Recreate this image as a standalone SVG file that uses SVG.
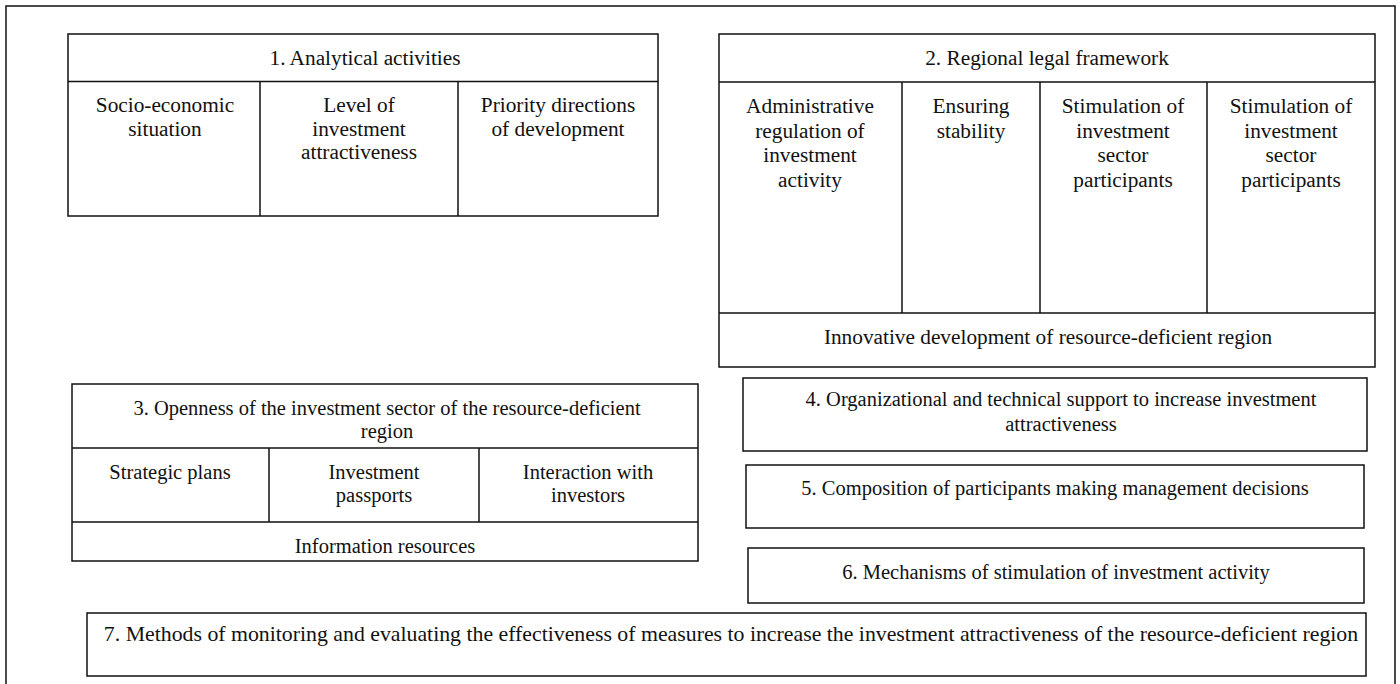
<svg xmlns="http://www.w3.org/2000/svg" width="1400" height="684" viewBox="0 0 1400 684" font-family="Liberation Serif, Times New Roman, serif">
<style>
rect, line { fill: none; stroke: #111; stroke-width: 1.5; }
text { font-family: Liberation Serif, Times New Roman, serif; font-size: 20.5px; fill: #111; text-anchor: middle; dominant-baseline: central; }
.lg { font-size: 21.3px; }
.xl { font-size: 21.8px; }
</style>
<rect x="0" y="0" width="1400" height="684" style="fill:#fff;stroke:none"/>
<rect id="frame" x="6" y="6" width="1389" height="690"/>
<g id="node1">
<rect x="68" y="34" width="590" height="182"/>
<line x1="68" y1="81.5" x2="658" y2="81.5"/>
<line x1="260" y1="81.5" x2="260" y2="216"/>
<line x1="458" y1="81.5" x2="458" y2="216"/>
<text class="lg" x="365" y="58">1. Analytical activities</text>
<text class="lg" x="165" y="105">Socio-economic</text>
<text class="lg" x="165" y="128.5">situation</text>
<text class="lg" x="359" y="105">Level of</text>
<text class="lg" x="359" y="128.5">investment</text>
<text class="lg" x="359" y="152">attractiveness</text>
<text class="lg" x="558" y="105">Priority directions</text>
<text class="lg" x="558" y="128.5">of development</text>
</g>
<g id="node2">
<rect x="719" y="34" width="656" height="333"/>
<line x1="719" y1="82" x2="1375" y2="82"/>
<line x1="902" y1="82" x2="902" y2="313"/>
<line x1="1040" y1="82" x2="1040" y2="313"/>
<line x1="1207" y1="82" x2="1207" y2="313"/>
<line x1="719" y1="313" x2="1375" y2="313"/>
<text class="lg" x="1047" y="58">2. Regional legal framework</text>
<text class="lg" x="810" y="106">Administrative</text>
<text class="lg" x="810" y="130.5">regulation of</text>
<text class="lg" x="810" y="155">investment</text>
<text class="lg" x="810" y="179.5">activity</text>
<text class="lg" x="971" y="106">Ensuring</text>
<text class="lg" x="971" y="130.5">stability</text>
<text class="lg" x="1123" y="106">Stimulation of</text>
<text class="lg" x="1123" y="130.5">investment</text>
<text class="lg" x="1123" y="155">sector</text>
<text class="lg" x="1123" y="179.5">participants</text>
<text class="lg" x="1291" y="106">Stimulation of</text>
<text class="lg" x="1291" y="130.5">investment</text>
<text class="lg" x="1291" y="155">sector</text>
<text class="lg" x="1291" y="179.5">participants</text>
<text class="lg" x="1048" y="337">Innovative development of resource-deficient region</text>
</g>
<g id="node3">
<rect x="72" y="384" width="626" height="177"/>
<line x1="72" y1="448" x2="698" y2="448"/>
<line x1="269" y1="448" x2="269" y2="522"/>
<line x1="479" y1="448" x2="479" y2="522"/>
<line x1="72" y1="522" x2="698" y2="522"/>
<text x="387" y="408">3. Openness of the investment sector of the resource-deficient</text>
<text x="387" y="431">region</text>
<text x="170" y="472">Strategic plans</text>
<text x="374" y="472">Investment</text>
<text x="374" y="495">passports</text>
<text x="588" y="472">Interaction with</text>
<text x="588" y="495">investors</text>
<text x="385" y="546">Information resources</text>
</g>
<g id="node4">
<rect x="743" y="378" width="624" height="73"/>
<text x="1061" y="399">4. Organizational and technical support to increase investment</text>
<text x="1061" y="424">attractiveness</text>
</g>
<g id="node5">
<rect x="746" y="465" width="618" height="63"/>
<text x="1055" y="488">5. Composition of participants making management decisions</text>
</g>
<g id="node6">
<rect x="748" y="548" width="616" height="55"/>
<text x="1056" y="572">6. Mechanisms of stimulation of investment activity</text>
</g>
<g id="node7">
<rect x="87" y="613" width="1279" height="63"/>
<text class="xl" x="731" y="634">7. Methods of monitoring and evaluating the effectiveness of measures to increase the investment attractiveness of the resource-deficient region</text>
</g>
<g id="connectors"></g>
</svg>
